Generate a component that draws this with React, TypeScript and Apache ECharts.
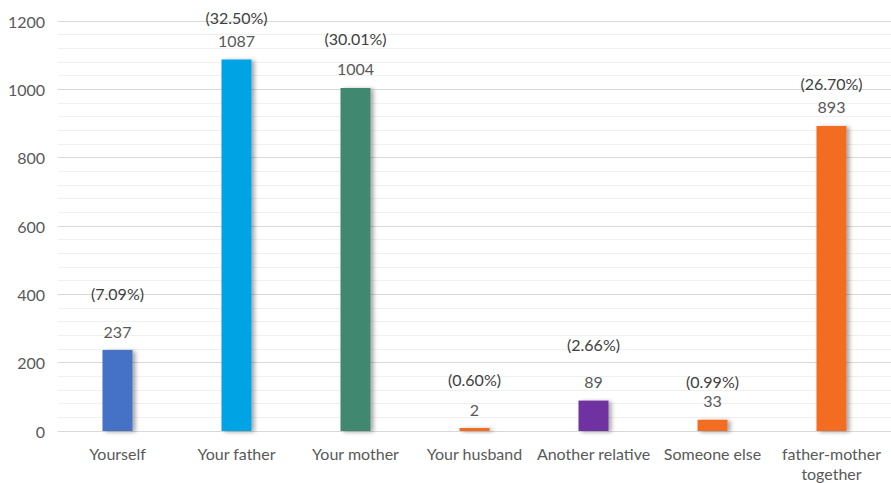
import React, { useEffect, useRef } from "react";
import * as echarts from "echarts";

const categories = ["Yourself", "Your father", "Your mother", "Your husband", "Another relative", "Someone else", "father-mother\ntogether"];
const values = [237, 1087, 1004, 2, 89, 33, 893];
const percents = ["7.09%", "32.50%", "30.01%", "0.60%", "2.66%", "0.99%", "26.70%"];
const yTicks = [0, 200, 400, 600, 800, 1000, 1200];
const barColors = ["#4472C4", "#00A3E3", "#41896F", "#F26D21", "#7030A0", "#F26D21", "#F26D21"];
// layout: vertical gap (px) between percentage and value labels
const pctGap = [38, 23, 30, 30, 37, 19, 23];

const FONT = "Lato, 'Noto Sans', sans-serif";

export default function App() {
  const ref = useRef<HTMLDivElement>(null);
  useEffect(() => {
    const chart = echarts.init(ref.current!, null, { renderer: "svg" });
    const data = values.map((v, i) => ({
      value: v,
      itemStyle: { color: barColors[i] },
      label: {
        formatter: `{p|(${percents[i]})}\n{v|${v}}`,
        rich: {
          p: { lineHeight: Math.max(2 * (pctGap[i] - 9), 16), fontSize: 16, color: "#404040", fontFamily: FONT },
          v: { lineHeight: 18, fontSize: 16, color: "#595959", fontFamily: FONT },
        },
      },
    }));
    chart.setOption({
      animation: false,
      backgroundColor: "#ffffff",
      grid: { left: 58, width: 837, top: 21, bottom: 51, containLabel: false },
      xAxis: {
        type: "category",
        data: categories,
        axisLine: { show: true, lineStyle: { color: "#D9D9D9", width: 1 } },
        axisTick: { show: false },
        axisLabel: { color: "#595959", fontSize: 16, fontFamily: FONT, margin: 12, interval: 0, lineHeight: 20 },
      },
      yAxis: {
        type: "value",
        min: yTicks[0],
        max: yTicks[yTicks.length - 1],
        interval: yTicks[1] - yTicks[0],
        axisLine: { show: false },
        axisTick: { show: false },
        axisLabel: { color: "#595959", fontSize: 16, fontFamily: FONT, margin: 13, formatter: (v: number) => String(v) },
        splitLine: { show: true, lineStyle: { color: "#D9D9D9", width: 1 } },
        minorTick: { show: false, splitNumber: 5 },
        minorSplitLine: { show: true, lineStyle: { color: "#F0F0F0", width: 1 } },
      },
      series: [
        {
          type: "bar",
          data,
          barWidth: 30,
          barMinHeight: 3,
          itemStyle: { shadowBlur: 4, shadowOffsetX: 3, shadowOffsetY: 1, shadowColor: "rgba(0,0,0,0.35)" },
          label: { show: true, position: "top", distance: 10 },
        },
      ],
    });
    return () => chart.dispose();
  }, []);
  return <div ref={ref} style={{ position: "fixed", left: 0, top: 0, width: 891, height: 483 }} />;
}
